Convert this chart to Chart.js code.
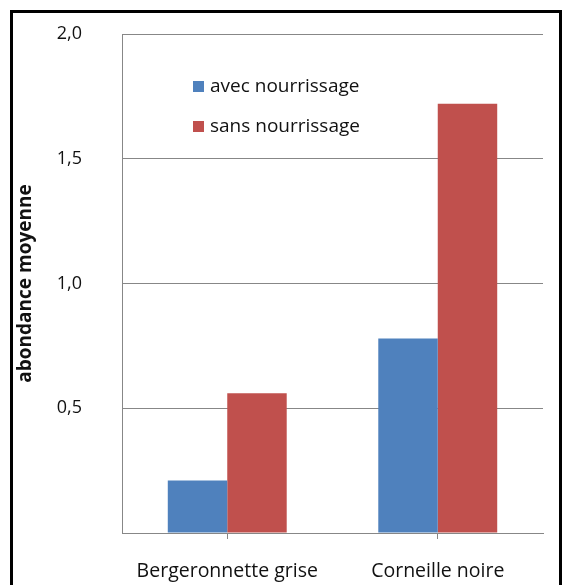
<!DOCTYPE html>
<html>
<head>
<meta charset="utf-8">
<script src="https://cdn.jsdelivr.net/npm/chart.js@4.4.0/dist/chart.umd.min.js"></script>
<style>
  html, body { margin: 0; padding: 0; background: #fff; }
  #wrap { width: 563px; height: 585px; }
</style>
</head>
<body>
<div id="wrap"><canvas id="myChart"></canvas></div>
<script>
const categories = ["Bergeronnette grise", "Corneille noire"];
const seriesNames = ["avec nourrissage", "sans nourrissage"];
const avecValues = [0.21, 0.78];
const sansValues = [0.56, 1.72];
const yTicks = [0, 0.5, 1.0, 1.5, 2.0];

const blue = "#4F81BD";
const red = "#C0504D";
const gridGray = "#878787";
const fontFamily = "'Open Sans', sans-serif";

const data = {
  labels: categories,
  datasets: [{
      label: seriesNames[0],
      data: avecValues,
      backgroundColor: blue,
      barPercentage: 1.0,
      categoryPercentage: 0.565,
    },
    {
      label: seriesNames[1],
      data: sansValues,
      backgroundColor: red,
      barPercentage: 1.0,
      categoryPercentage: 0.565,
    }
  ]
};

// legend drawn inside the plot, top-left, like the original
const innerLegend = {
  id: 'innerLegend',
  afterDraw(chart) {
    const c = chart.ctx;
    const area = chart.chartArea;
    c.save();
    c.font = "19px " + fontFamily;
    c.textBaseline = "middle";
    chart.data.datasets.forEach((ds, i) => {
      const y = area.top + 53 + i * 40;
      c.fillStyle = ds.backgroundColor;
      c.fillRect(area.left + 71, y - 6, 11, 11);
      c.fillStyle = "#111";
      c.fillText(ds.label, area.left + 88, y);
    });
    c.restore();
  }
};

// black frame around the whole picture
const frame = {
  id: 'frame',
  beforeDraw(chart) {
    const c = chart.ctx;
    c.save();
    c.fillStyle = "#fff";
    c.fillRect(0, 0, chart.width, chart.height);
    c.strokeStyle = "#000";
    c.lineWidth = 3;
    c.strokeRect(11.5, 11.5, chart.width - 14, chart.height + 40);
    c.restore();
  }
};

const config = {
  type: 'bar',
  data: data,
  options: {
    responsive: true,
    maintainAspectRatio: false,
    animation: false,
    layout: {
      padding: { top: 34, left: 10, right: 20, bottom: 0 }
    },
    plugins: {
      legend: { display: false },
      tooltip: { enabled: false }
    },
    scales: {
      x: {
        afterFit(scale) { scale.height = 52; },
        grid: {
          display: true,
          drawOnChartArea: false,
          offset: false,
          tickLength: 6,
          color: gridGray
        },
        border: { color: gridGray },
        ticks: {
          padding: 21,
          color: "#111",
          font: { size: 19.5, family: fontFamily }
        }
      },
      y: {
        min: 0,
        max: 2,
        afterFit(scale) { scale.width = 112; },
        afterBuildTicks(scale) {
          scale.ticks = yTicks.map(v => ({ value: v }));
        },
        // invisible tick marks keep the labels away from the axis
        grid: {
          color: gridGray,
          tickLength: 36,
          tickColor: 'rgba(0,0,0,0)'
        },
        border: { color: gridGray },
        ticks: {
          padding: 4,
          color: "#111",
          font: { size: 18, family: fontFamily },
          callback: function(value) {
            return value === 0 ? '' : value.toFixed(1).replace('.', ',');
          }
        },
        title: {
          display: true,
          text: 'abondance moyenne',
          color: "#111",
          padding: { top: 4, bottom: 0 },
          font: { size: 19, weight: 'bold', family: fontFamily }
        }
      }
    }
  },
  plugins: [frame, innerLegend]
};

new Chart("myChart", config);
</script>
</body>
</html>
